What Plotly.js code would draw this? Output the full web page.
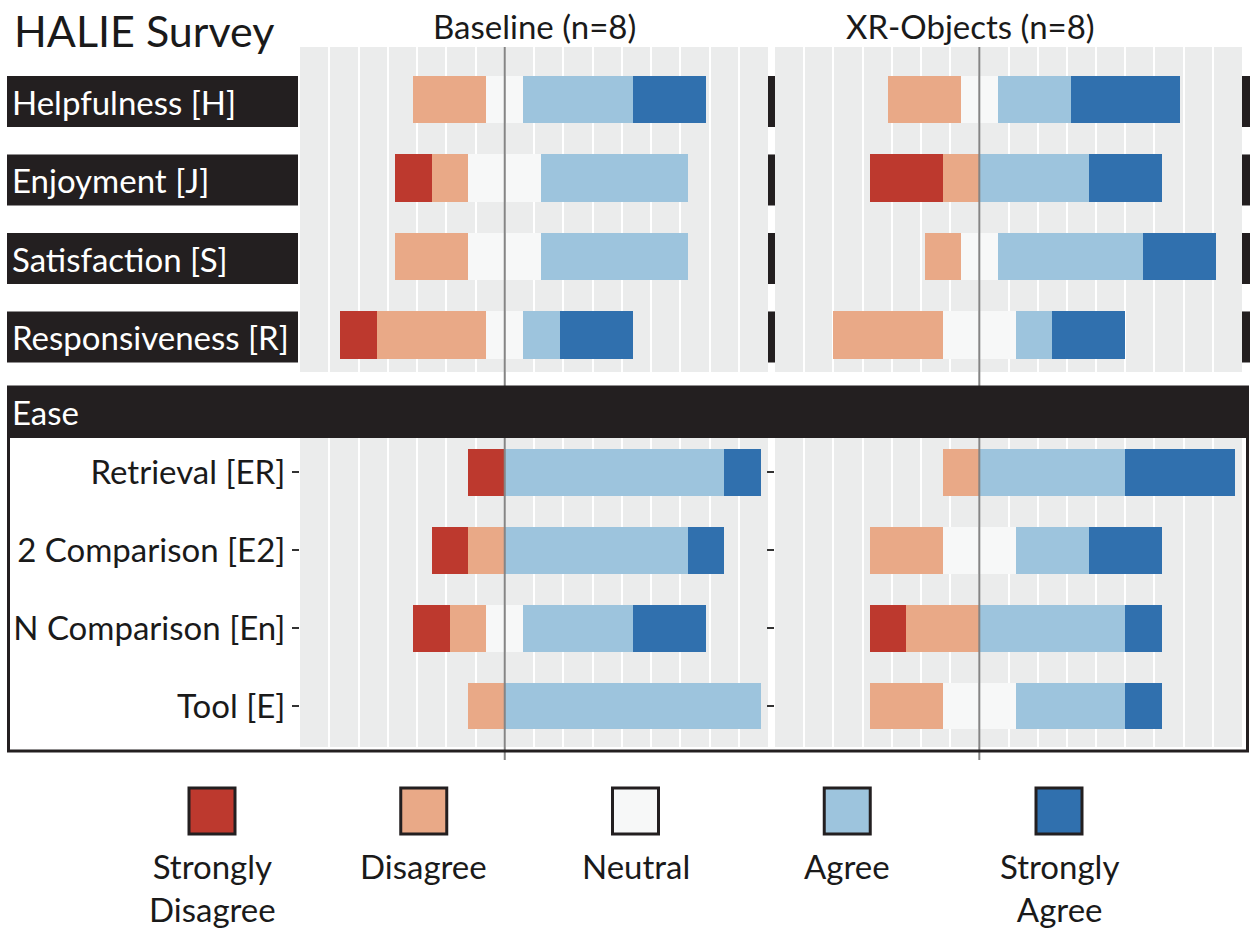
<!DOCTYPE html>
<html><head><meta charset="utf-8">
<script src="https://cdn.plot.ly/plotly-3.0.1.min.js"></script>
<style>html,body{margin:0;padding:0;background:#fff}#chart{width:1250px;height:936px}</style>
</head><body><div id="chart"></div>
<script>
// ---- data ----
const levels = ['Strongly Disagree', 'Disagree', 'Neutral', 'Agree', 'Strongly Agree'];
const levelLabels = ['Strongly<br>Disagree', 'Disagree', 'Neutral', 'Agree', 'Strongly<br>Agree'];
const levelColors = ['#BD392E', '#E9A987', '#F7F8F8', '#9DC4DD', '#3070AE'];
const generalItems = ['Helpfulness [H]', 'Enjoyment [J]', 'Satisfaction [S]', 'Responsiveness [R]'];
const easeItems = ['Retrieval [ER]', '2 Comparison [E2]', 'N Comparison [En]', 'Tool [E]'];
const sectionTitle = 'Ease';
const chartTitle = 'HALIE Survey';
const panelTitles = ['Baseline (n=8)', 'XR-Objects (n=8)'];
const nRespondents = 8;
// counts per item, in level order [SD, D, N, A, SA]
const baselineGeneral = [[0,2,1,3,2],[1,1,2,4,0],[0,2,2,4,0],[1,3,1,1,2]];
const xrGeneral       = [[0,2,1,2,3],[2,1,0,3,2],[0,1,1,4,2],[0,3,2,1,2]];
const baselineEase    = [[1,0,0,6,1],[1,1,0,5,1],[1,1,1,3,2],[0,1,0,7,0]];
const xrEase          = [[0,1,0,4,3],[0,2,2,2,2],[1,2,0,4,1],[0,2,2,3,1]];

// ---- helpers ----
const W = 1250, H = 936;
const px = v => v / W;
const py = v => 1 - v / H;
const pct = c => c / nRespondents * 100;
const FONT = 'Lato, "Open Sans", sans-serif';
const TXT = '#1a1a1a';
const STRIP = '#231F20';

const traces = [];
function addPanel(items, counts, xa, ya) {
  // stacking order from the centre outward
  const segs = [
    {lvl: 2, sign: -1, f: 0.5}, {lvl: 2, sign: 1, f: 0.5},
    {lvl: 1, sign: -1, f: 1},   {lvl: 3, sign: 1, f: 1},
    {lvl: 0, sign: -1, f: 1},   {lvl: 4, sign: 1, f: 1}
  ];
  segs.forEach(s => {
    traces.push({
      type: 'bar', orientation: 'h', xaxis: xa, yaxis: ya,
      y: items,
      x: counts.map(r => s.sign * pct(r[s.lvl]) * s.f),
      width: 0.6,
      marker: {color: levelColors[s.lvl], line: {width: 0}},
      name: levels[s.lvl], showlegend: false, hoverinfo: 'skip'
    });
  });
}
addPanel(generalItems, baselineGeneral, 'x', 'y');
addPanel(generalItems, xrGeneral, 'x2', 'y2');
addPanel(easeItems, baselineEase, 'x', 'y3');
addPanel(easeItems, xrEase, 'x2', 'y4');

const xRange = [-70, 90];
const xBase = {range: xRange, showticklabels: false, ticks: '', showgrid: true, gridcolor: '#ffffff',
  gridwidth: 2, dtick: 10, tick0: 0, zeroline: false, showline: false, fixedrange: true, automargin: false};
const topDomain = [py(372), py(47)];
const botDomain = [py(747), py(438)];
const topRange = [3.471, -0.669];
const botRange = [3.527, -0.443];
const yBase = {type: 'category', categoryorder: 'array', showgrid: false, zeroline: false,
  showline: false, fixedrange: true, automargin: false};

const shapes = [];
const annotations = [];

// centre lines
['x', 'x2'].forEach(xr => shapes.push({type: 'line', xref: xr, yref: 'paper', x0: 0, x1: 0,
  y0: py(47), y1: py(760), line: {color: '#858585', width: 2}, layer: 'above'}));

// top strips (row labels) + side bits
generalItems.forEach((it, i) => {
  [[7, 298], [768, 775], [1242, 1250]].forEach(([a, b]) => shapes.push({
    type: 'rect', xref: 'paper', yref: 'y', x0: px(a), x1: px(b), y0: i - 0.3, y1: i + 0.35,
    fillcolor: STRIP, line: {width: 0}, layer: 'above'}));
  annotations.push({xref: 'paper', yref: 'y', x: px(10), y: i + 0.03, xanchor: 'left', yanchor: 'middle',
    text: it, showarrow: false, font: {family: FONT, size: 33, color: '#ffffff'}});
});

// Ease header + box
shapes.push({type: 'rect', xref: 'paper', yref: 'paper', x0: px(8), x1: px(1249), y0: py(438), y1: py(387),
  fillcolor: STRIP, line: {width: 0}, layer: 'above'});
shapes.push({type: 'rect', xref: 'paper', yref: 'paper', x0: px(8.5), x1: px(1247.5), y0: py(751), y1: py(387),
  fillcolor: 'rgba(0,0,0,0)', line: {width: 3, color: STRIP}, layer: 'above'});
annotations.push({xref: 'paper', yref: 'paper', x: px(10), y: py(412), xanchor: 'left', yanchor: 'middle',
  text: sectionTitle, showarrow: false, font: {family: FONT, size: 33, color: '#ffffff'}});

// titles
annotations.push({xref: 'paper', yref: 'paper', x: px(12), y: py(31), xanchor: 'left', yanchor: 'middle',
  text: chartTitle, showarrow: false, font: {family: FONT, size: 43, color: TXT}});
annotations.push({xref: 'paper', yref: 'paper', x: px(534), y: py(26), xanchor: 'center', yanchor: 'middle',
  text: panelTitles[0], showarrow: false, font: {family: FONT, size: 33, color: TXT}});
annotations.push({xref: 'paper', yref: 'paper', x: px(970), y: py(26), xanchor: 'center', yanchor: 'middle',
  text: panelTitles[1], showarrow: false, font: {family: FONT, size: 33, color: TXT}});

// legend
levels.forEach((lv, i) => {
  const cx = 212 + i * 211.75;
  shapes.push({type: 'rect', xref: 'paper', yref: 'paper', x0: px(cx - 23), x1: px(cx + 23),
    y0: py(834), y1: py(788), fillcolor: levelColors[i], line: {width: 3, color: STRIP}});
  annotations.push({xref: 'paper', yref: 'paper', x: px(cx), y: py(844), xanchor: 'center', yanchor: 'top',
    text: levelLabels[i], showarrow: false, align: 'center', font: {family: FONT, size: 33, color: TXT}});
});

const layout = {
  width: W, height: H, margin: {l: 0, r: 0, t: 0, b: 0},
  paper_bgcolor: '#ffffff', plot_bgcolor: '#EBECEC',
  font: {family: FONT, color: TXT},
  barmode: 'relative', bargap: 0, showlegend: false, hovermode: false,
  xaxis: Object.assign({}, xBase, {domain: [px(300), px(768)], anchor: 'y'}),
  xaxis2: Object.assign({}, xBase, {domain: [px(775), px(1242)], anchor: 'y2'}),
  yaxis: Object.assign({}, yBase, {domain: topDomain, range: topRange, categoryarray: generalItems,
    anchor: 'x', showticklabels: false, ticks: ''}),
  yaxis2: Object.assign({}, yBase, {domain: topDomain, range: topRange, categoryarray: generalItems,
    anchor: 'x2', showticklabels: false, ticks: ''}),
  yaxis3: Object.assign({}, yBase, {domain: botDomain, range: botRange, categoryarray: easeItems,
    anchor: 'x', ticks: 'outside', ticklen: 7, tickwidth: 2, tickcolor: '#333333',
    tickfont: {family: FONT, size: 33, color: TXT}}),
  yaxis4: Object.assign({}, yBase, {domain: botDomain, range: botRange, categoryarray: easeItems,
    anchor: 'x2', showticklabels: false, ticks: 'outside', ticklen: 7, tickwidth: 2, tickcolor: '#333333'}),
  shapes: shapes,
  annotations: annotations
};

Plotly.newPlot('chart', traces, layout, {staticPlot: true, displayModeBar: false});
</script>
</body></html>
